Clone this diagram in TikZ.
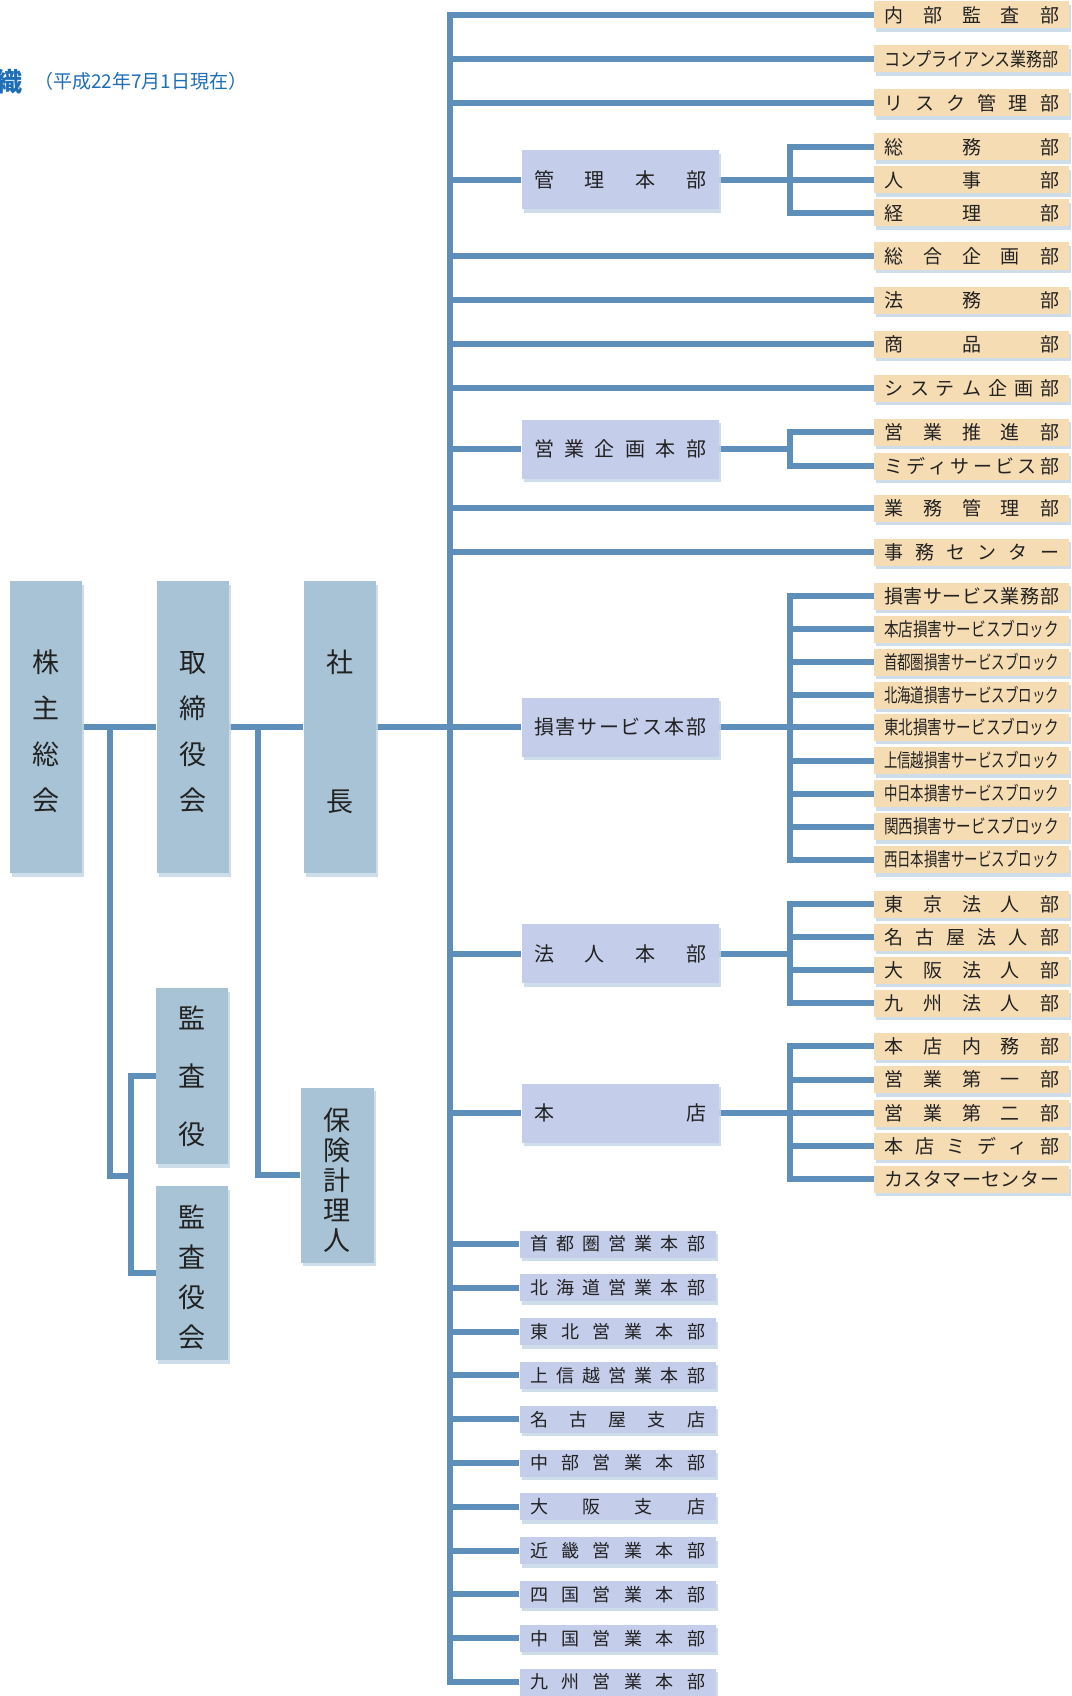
\documentclass[tikz,border=0pt]{standalone}
\usepackage{fontspec}
\setmainfont{Noto Sans CJK JP}
\usepackage{graphicx}
\usetikzlibrary{shadows}
\definecolor{linec}{HTML}{5E8EBA}
\definecolor{peach}{HTML}{F6DCB3}
\definecolor{lav}{HTML}{C4CDEA}
\definecolor{steel}{HTML}{A7C3D5}
\definecolor{shad}{HTML}{C6D7E6}
\definecolor{txt}{HTML}{222222}
\definecolor{ttl}{HTML}{1E6EB6}
\pgfdeclarelayer{bg}
\pgfsetlayers{bg,main}
\newsavebox\sprbox
\ExplSyntaxOn
\bool_new:N \l__spr_first_bool
\NewDocumentCommand\spread{mm}
 {
  \sbox\sprbox{#2}
  \dim_compare:nNnTF {\wd\sprbox} > {#1}
   {
    \scalebox{\fp_eval:n {\dim_to_fp:n{#1} / \dim_to_fp:n{\wd\sprbox}}}[1]{\usebox\sprbox}
   }
   {
    \makebox[#1][s]{
      \bool_set_true:N \l__spr_first_bool
      \tl_map_inline:nn {#2}
       {
        \bool_if:NF \l__spr_first_bool {\hfill}
        \bool_set_false:N \l__spr_first_bool
        ##1
       }
    }
   }
 }
\ExplSyntaxOff
\newcommand\topstrut{\rule{0pt}{32pt}}
\tikzset{
  conn/.style={draw=linec, line width=6pt},
  shd/.style={drop shadow={shadow xshift=2pt, shadow yshift=-3.5pt, fill=shad, opacity=0.85}},
  rbox/.style={shd, fill=peach, minimum width=195pt, minimum height=27pt, inner sep=0pt, text=txt, font=\fontsize{19}{19}\selectfont},
  mbox/.style={shd, fill=lav, minimum width=197pt, minimum height=59pt, inner sep=0pt, text=txt, font=\fontsize{20}{20}\selectfont},
  bbox/.style={shd, fill=lav, minimum width=196pt, minimum height=27pt, inner sep=0pt, text=txt, font=\fontsize{18}{18}\selectfont},
  lbox/.style={shd, fill=steel, minimum width=72pt, inner sep=0pt, align=center, text=txt},
}
\begin{document}
\begin{tikzpicture}[x=1pt,y=-1pt]
\useasboundingbox (0,0) rectangle (1071,1696);
\clip (0,0) rectangle (1071,1696);
% title
\node[text=ttl, font=\fontsize{26}{26}\selectfont\bfseries, anchor=center] (ttlA) at (10,82) {織};
\node[text=ttl, font=\fontsize{19}{19}\selectfont, anchor=west, inner sep=0pt] (ttlB) at (34,81) {（平成22年7月1日現在）};
% left column
\node[lbox, minimum height=292pt, font=\fontsize{27}{46}\selectfont] (kabu) at (46,727) {\topstrut 株\\主\\総\\会};
\node[lbox, minimum height=292pt, font=\fontsize{27}{46}\selectfont] (tori) at (192.5,727) {\topstrut 取\\締\\役\\会};
\node[lbox, minimum height=292pt, font=\fontsize{27}{139}\selectfont] (shacho) at (339.5,727) {\topstrut 社\\長};
\node[lbox, minimum height=176pt, font=\fontsize{27}{58}\selectfont] (kansa) at (192,1076) {監\\査\\役};
\node[lbox, minimum height=174pt, font=\fontsize{27}{40}\selectfont] (kansakai) at (192,1273) {\topstrut 監\\査\\役\\会};
\node[lbox, minimum height=175pt, minimum width=73pt, font=\fontsize{27}{30}\selectfont] (hoken) at (337,1175) {\topstrut 保\\険\\計\\理\\人};
% middle boxes
\node[mbox] (kanri) at (620,180) {\spread{172pt}{管理本部}};
\node[mbox] (eikikaku) at (620,449) {\spread{172pt}{営業企画本部}};
\node[mbox] (songai) at (620,727) {\spread{172pt}{損害サービス本部}};
\node[mbox] (houjin) at (620,953.5) {\spread{172pt}{法人本部}};
\node[mbox] (honten) at (620,1113) {\spread{172pt}{本店}};
% bottom boxes
\node[bbox] (b1) at (617.5,1244) {\spread{175pt}{首都圏営業本部}};
\node[bbox] (b2) at (617.5,1287.8) {\spread{175pt}{北海道営業本部}};
\node[bbox] (b3) at (617.5,1331.6) {\spread{175pt}{東北営業本部}};
\node[bbox] (b4) at (617.5,1375.4) {\spread{175pt}{上信越営業本部}};
\node[bbox] (b5) at (617.5,1419.2) {\spread{175pt}{名古屋支店}};
\node[bbox] (b6) at (617.5,1463) {\spread{175pt}{中部営業本部}};
\node[bbox] (b7) at (617.5,1506.8) {\spread{175pt}{大阪支店}};
\node[bbox] (b8) at (617.5,1550.6) {\spread{175pt}{近畿営業本部}};
\node[bbox] (b9) at (617.5,1594.4) {\spread{175pt}{四国営業本部}};
\node[bbox] (b10) at (617.5,1638.2) {\spread{175pt}{中国営業本部}};
\node[bbox] (b11) at (617.5,1682) {\spread{175pt}{九州営業本部}};
% right boxes
\node[rbox] (r1) at (971.5,15) {\spread{175pt}{内部監査部}};
\node[rbox] (r2) at (971.5,59) {\spread{175pt}{コンプライアンス業務部}};
\node[rbox] (r3) at (971.5,103) {\spread{175pt}{リスク管理部}};
\node[rbox] (r4) at (971.5,147) {\spread{175pt}{総務部}};
\node[rbox] (r5) at (971.5,180) {\spread{175pt}{人事部}};
\node[rbox] (r6) at (971.5,213) {\spread{175pt}{経理部}};
\node[rbox] (r7) at (971.5,256) {\spread{175pt}{総合企画部}};
\node[rbox] (r8) at (971.5,300) {\spread{175pt}{法務部}};
\node[rbox] (r9) at (971.5,344) {\spread{175pt}{商品部}};
\node[rbox] (r10) at (971.5,388) {\spread{175pt}{システム企画部}};
\node[rbox] (r11) at (971.5,432) {\spread{175pt}{営業推進部}};
\node[rbox] (r12) at (971.5,466) {\spread{175pt}{ミディサービス部}};
\node[rbox] (r13) at (971.5,508) {\spread{175pt}{業務管理部}};
\node[rbox] (r14) at (971.5,552) {\spread{175pt}{事務センター}};
\node[rbox] (s1) at (971.5,596) {\spread{175pt}{損害サービス業務部}};
\node[rbox] (s2) at (971.5,629) {\spread{175pt}{本店損害サービスブロック}};
\node[rbox] (s3) at (971.5,662) {\spread{175pt}{首都圏損害サービスブロック}};
\node[rbox] (s4) at (971.5,695) {\spread{175pt}{北海道損害サービスブロック}};
\node[rbox] (s5) at (971.5,727) {\spread{175pt}{東北損害サービスブロック}};
\node[rbox] (s6) at (971.5,760.5) {\spread{175pt}{上信越損害サービスブロック}};
\node[rbox] (s7) at (971.5,793.5) {\spread{175pt}{中日本損害サービスブロック}};
\node[rbox] (s8) at (971.5,826.5) {\spread{175pt}{関西損害サービスブロック}};
\node[rbox] (s9) at (971.5,859.5) {\spread{175pt}{西日本損害サービスブロック}};
\node[rbox] (h1) at (971.5,904) {\spread{175pt}{東京法人部}};
\node[rbox] (h2) at (971.5,937) {\spread{175pt}{名古屋法人部}};
\node[rbox] (h3) at (971.5,970) {\spread{175pt}{大阪法人部}};
\node[rbox] (h4) at (971.5,1003) {\spread{175pt}{九州法人部}};
\node[rbox] (t1) at (971.5,1046) {\spread{175pt}{本店内務部}};
\node[rbox] (t2) at (971.5,1079.5) {\spread{175pt}{営業第一部}};
\node[rbox] (t3) at (971.5,1113) {\spread{175pt}{営業第二部}};
\node[rbox] (t4) at (971.5,1146) {\spread{175pt}{本店ミディ部}};
\node[rbox] (t5) at (971.5,1179) {\spread{175pt}{カスタマーセンター}};
% helper coordinates
\coordinate (tx) at (450,0);
\coordinate (bx) at (790,0);
\coordinate (d1) at (110,727);
\coordinate (d2) at (258,727);
\coordinate (bk) at (131,1176);
\begin{pgfonlayer}{bg}
% left connections
\draw[conn] (kabu.east) -- (tori.west);
\draw[conn] (tori.east) -- (shacho.west);
\draw[conn] (shacho.east) -- (songai.west);
\draw[conn] (d1) |- (bk);
\draw[conn] (kansa.west) -| (kansakai.west -| bk) -- (kansakai.west);
\draw[conn] (d2) |- (hoken.west);
% trunk
\draw[conn] (r1.west) -| (b11.west -| tx) -- (b11.west);
\foreach \n in {r2,r3,r7,r8,r9,r10,r13,r14,kanri,eikikaku,houjin,honten,b1,b2,b3,b4,b5,b6,b7,b8,b9,b10}
  \draw[conn] (\n.west -| tx) -- (\n.west);
% sub brackets
\draw[conn] (kanri.east) -- (kanri.east -| bx);
\draw[conn] (r4.west) -| (r6.west -| bx) -- (r6.west);
\draw[conn] (r5.west -| bx) -- (r5.west);
\draw[conn] (eikikaku.east) -- (eikikaku.east -| bx);
\draw[conn] (r11.west) -| (r12.west -| bx) -- (r12.west);
\draw[conn] (songai.east) -- (songai.east -| bx);
\draw[conn] (s1.west) -| (s9.west -| bx) -- (s9.west);
\foreach \n in {s2,s3,s4,s5,s6,s7,s8}
  \draw[conn] (\n.west -| bx) -- (\n.west);
\draw[conn] (houjin.east) -- (houjin.east -| bx);
\draw[conn] (h1.west) -| (h4.west -| bx) -- (h4.west);
\foreach \n in {h2,h3}
  \draw[conn] (\n.west -| bx) -- (\n.west);
\draw[conn] (honten.east) -- (honten.east -| bx);
\draw[conn] (t1.west) -| (t5.west -| bx) -- (t5.west);
\foreach \n in {t2,t3,t4}
  \draw[conn] (\n.west -| bx) -- (\n.west);
\end{pgfonlayer}
\end{tikzpicture}
\end{document}
